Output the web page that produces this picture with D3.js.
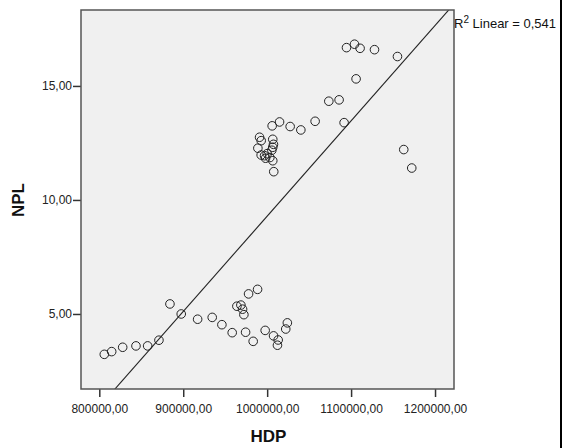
<!DOCTYPE html>
<html>
<head>
<meta charset="utf-8">
<script src="https://cdn.jsdelivr.net/npm/d3@7"></script>
<style>
  body { margin: 0; background: #fff; }
  svg { display: block; font-family: Arial, "Liberation Sans", sans-serif; }
</style>
</head>
<body>
<div id="container"></div>
<script>
"use strict";
// scatter of NPL against HDP
const hdp = [
    805950, 814760, 827860, 843700, 857600, 871070, 884170, 897620, 917140, 934520,
    946070, 958330, 963930, 968690, 970700, 972260, 974290, 977850, 983330, 988570,
    997620, 1007620, 1012260, 1013100, 1022140, 1024050,
    1005950, 1014760, 1027380, 1040120, 990950, 992860, 1006670, 1007500, 1006670, 988930,
    1005590, 992860, 996900, 1000000, 1003210, 998100, 1006670, 1007860,
    1057140, 1091670, 1073450, 1085710, 1105950, 1094520, 1104050, 1110710, 1127860, 1155240,
    1162740, 1172260
];
const npl = [
    3.23, 3.35, 3.54, 3.60, 3.60, 3.85, 5.44, 5.00, 4.77, 4.85,
    4.53, 4.18, 5.34, 5.39, 5.21, 4.97, 4.20, 5.88, 3.80, 6.08,
    4.28, 4.04, 3.63, 3.86, 4.34, 4.61,
    13.25, 13.42, 13.22, 13.07, 12.75, 12.60, 12.66, 12.44, 12.31, 12.27,
    12.18, 11.97, 11.94, 12.03, 11.86, 11.83, 11.72, 11.24,
    13.45, 13.39, 14.33, 14.39, 15.31, 16.68, 16.83, 16.65, 16.59, 16.29,
    12.21, 11.40
];
const xTicks = [800000, 900000, 1000000, 1100000, 1200000];
const yTicks = [5, 10, 15];
// fit line as shown on the chart
const fitIntercept = -32.51;
const fitSlope = 4.18e-5;
const r2Value = 0.541;

const width = 562, height = 448;
const plot = { left: 81, top: 10, right: 454, bottom: 389 };

const svg = d3.select("#container").append("svg")
    .attr("width", width)
    .attr("height", height);

const x = d3.scaleLinear()
    .domain([778200, 1222600])
    .range([plot.left, plot.right]);
const y = d3.scaleLinear()
    .domain([1.71, 18.33])
    .range([plot.bottom, plot.top]);

const comma2 = v => d3.format(".2f")(v).replace(".", ",");

svg.append("rect")
    .attr("x", plot.left)
    .attr("y", plot.top)
    .attr("width", plot.right - plot.left)
    .attr("height", plot.bottom - plot.top)
    .attr("fill", "#f0f0f0");

svg.append("clipPath").attr("id", "clip")
  .append("rect")
    .attr("x", plot.left)
    .attr("y", plot.top)
    .attr("width", plot.right - plot.left)
    .attr("height", plot.bottom - plot.top);

// regression line
const x0 = x.domain()[0], x1 = x.domain()[1];
svg.append("line")
    .attr("clip-path", "url(#clip)")
    .attr("x1", x(x0)).attr("y1", y(fitIntercept + fitSlope * x0))
    .attr("x2", x(x1)).attr("y2", y(fitIntercept + fitSlope * x1))
    .attr("stroke", "#222")
    .attr("stroke-width", 1.1);

svg.append("g")
    .selectAll("circle")
    .data(d3.range(hdp.length))
    .enter().append("circle")
        .attr("cx", i => x(hdp[i]))
        .attr("cy", i => y(npl[i]))
        .attr("r", 4.3)
        .attr("fill", "none")
        .attr("stroke", "#222")
        .attr("stroke-width", 1);

// axes
const xAxis = svg.append("g")
    .attr("transform", `translate(0, ${plot.bottom})`)
    .call(d3.axisBottom(x).tickValues(xTicks).tickFormat(comma2).tickSize(8).tickPadding(7));
const yAxis = svg.append("g")
    .attr("transform", `translate(${plot.left}, 0)`)
    .call(d3.axisLeft(y).tickValues(yTicks).tickFormat(comma2).tickSize(8).tickPadding(1));
[xAxis, yAxis].forEach(a => {
    a.select(".domain").remove();
    a.selectAll("line").attr("stroke", "#333").attr("stroke-width", 1.5);
    a.selectAll("text")
        .attr("fill", "#222")
        .style("font-size", "12px")
        .style("font-family", "Arial, 'Liberation Sans', sans-serif");
});

svg.append("rect")
    .attr("x", plot.left)
    .attr("y", plot.top)
    .attr("width", plot.right - plot.left)
    .attr("height", plot.bottom - plot.top)
    .attr("fill", "none")
    .attr("stroke", "#555")
    .attr("stroke-width", 1.5);

// axis titles
svg.append("text")
    .attr("x", (plot.left + plot.right) / 2 + 1)
    .attr("y", 442)
    .attr("text-anchor", "middle")
    .style("font-size", "17px")
    .style("font-weight", "bold")
    .attr("fill", "#111")
    .text("HDP");

svg.append("text")
    .attr("transform", `translate(24, 200) rotate(-90)`)
    .attr("text-anchor", "middle")
    .style("font-size", "17px")
    .style("font-weight", "bold")
    .attr("fill", "#111")
    .text("NPL");

// R2 label
const r2 = svg.append("text")
    .attr("x", 454)
    .attr("y", 28)
    .style("font-size", "13px")
    .attr("fill", "#111");
r2.append("tspan").text("R");
r2.append("tspan").attr("dy", -5).style("font-size", "10px").text("2");
r2.append("tspan").attr("dy", 5).text(" Linear = " + d3.format(".3f")(r2Value).replace(".", ","));

// right edge rule
svg.append("line")
    .attr("x1", 561).attr("x2", 561)
    .attr("y1", 0).attr("y2", height)
    .attr("stroke", "#000")
    .attr("stroke-width", 2);
</script>
</body>
</html>
